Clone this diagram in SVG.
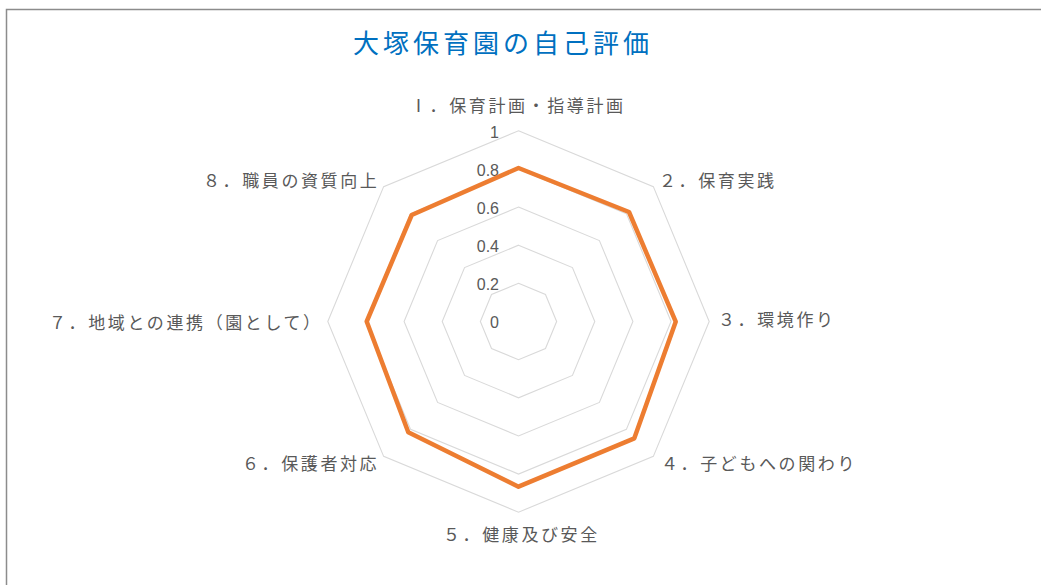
<svg xmlns="http://www.w3.org/2000/svg" width="1041" height="585" viewBox="0 0 1041 585">
<style>
.frame{fill:#ffffff;stroke:#8c8c8c;stroke-width:1.5}
.ring{fill:none;stroke:#d9d9d9;stroke-width:1.1}
.data{fill:none;stroke:#ed7d31;stroke-width:4.5;stroke-linejoin:round}
.title{font-family:"Noto Sans CJK JP","Noto Sans CJK SC",sans-serif;font-size:26px;fill:#0070c0;letter-spacing:4px}
.lbl{font-family:"Noto Sans CJK JP","Noto Sans CJK SC",sans-serif;font-size:17px;fill:#595959;letter-spacing:2.6px}
.tick{font-family:"Liberation Sans","Noto Sans",sans-serif;font-size:16px;fill:#595959;text-anchor:end}
</style>
<rect x="0" y="0" width="1041" height="585" fill="#ffffff"/>
<rect class="frame" x="6.5" y="9.5" width="1100" height="700"/>
<text id="title" class="title" x="353" y="53">大塚保育園の自己評価</text>
<g id="grid">
<polygon class="ring" points="518.5,130.8 653.35,186.65 709.2,321.5 653.35,456.35 518.5,512.2 383.65,456.35 327.8,321.5 383.65,186.65"/>
<polygon class="ring" points="518.5,168.94 626.38,213.62 671.06,321.5 626.38,429.38 518.5,474.06 410.62,429.38 365.94,321.5 410.62,213.62"/>
<polygon class="ring" points="518.5,207.08 599.41,240.59 632.92,321.5 599.41,402.41 518.5,435.92 437.59,402.41 404.08,321.5 437.59,240.59"/>
<polygon class="ring" points="518.5,245.22 572.44,267.56 594.78,321.5 572.44,375.44 518.5,397.78 464.56,375.44 442.22,321.5 464.56,267.56"/>
<polygon class="ring" points="518.5,283.36 545.47,294.53 556.64,321.5 545.47,348.47 518.5,359.64 491.53,348.47 480.36,321.5 491.53,294.53"/>
</g>
<g id="ticks">
<text class="tick" x="499" y="137.5">1</text>
<text class="tick" x="499" y="175.6">0.8</text>
<text class="tick" x="499" y="213.7">0.6</text>
<text class="tick" x="499" y="251.8">0.4</text>
<text class="tick" x="499" y="289.9">0.2</text>
<text class="tick" x="499" y="328">0</text>
</g>
<g id="series">
<polygon class="data" points="518.5,168 629,212 675.7,321.7 634.3,438.3 518.5,486.7 408.3,432.3 366.7,321.5 411.7,215"/>
</g>
<g id="axis-labels">
<text id="axis1" class="lbl" x="410" y="111.5">Ⅰ．保育計画・指導計画</text>
<text id="axis2" class="lbl" x="659" y="186.5">２．保育実践</text>
<text id="axis3" class="lbl" x="718" y="326">３．環境作り</text>
<text id="axis4" class="lbl" x="661" y="469.5">４．子どもへの関わり</text>
<text id="axis5" class="lbl" x="443" y="540.5">５．健康及び安全</text>
<text id="axis6" class="lbl" x="242" y="469.5">６．保護者対応</text>
<text id="axis7" class="lbl" x="49" y="329">７．地域との連携（園として）</text>
<text id="axis8" class="lbl" x="203" y="186.5">８．職員の資質向上</text>
</g>
</svg>
